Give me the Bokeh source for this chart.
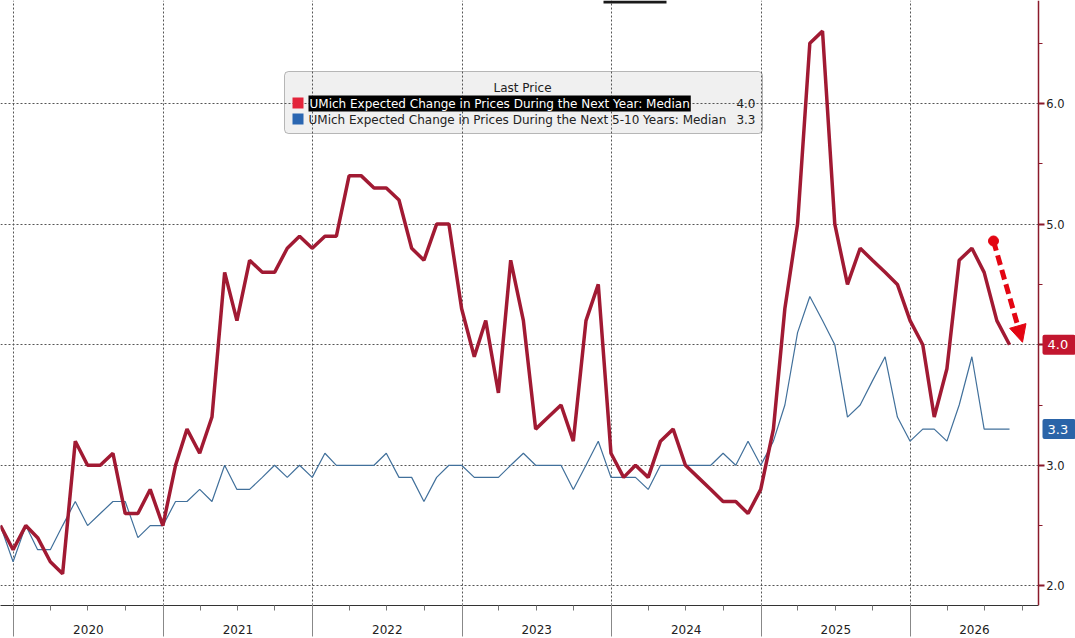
import pandas as pd
from bokeh.plotting import figure
from bokeh.models import (Range1d, FixedTicker, DatetimeTickFormatter, LinearAxis,
                          PrintfTickFormatter, BoxAnnotation, Label, Arrow, NormalHead)
from bokeh.embed import file_html
from bokeh.resources import INLINE

# monthly readings, plotted at month end: Nov 2019 .. Aug 2026
months = pd.date_range("2019-11-30", periods=82, freq="ME")

# UMich expected change in prices during the next year: median
one_year = [2.5, 2.3, 2.5, 2.4, 2.2, 2.1, 3.2, 3.0, 3.0, 3.1, 2.6, 2.6, 2.8, 2.5,
            3.0, 3.3, 3.1, 3.4, 4.6, 4.2, 4.7, 4.6, 4.6, 4.8, 4.9, 4.8,
            4.9, 4.9, 5.4, 5.4, 5.3, 5.3, 5.2, 4.8, 4.7, 5.0, 5.0, 4.3,
            3.9, 4.2, 3.6, 4.7, 4.2, 3.3, 3.4, 3.5, 3.2, 4.2, 4.5, 3.1,
            2.9, 3.0, 2.9, 3.2, 3.3, 3.0, 2.9, 2.8, 2.7, 2.7, 2.6, 2.8,
            3.3, 4.3, 5.0, 6.5, 6.6, 5.0, 4.5, 4.8, 4.7, 4.6, 4.5, 4.2,
            4.0, 3.4, 3.8, 4.7, 4.8, 4.6, 4.2, 4.0]

# UMich expected change in prices during the next 5-10 years: median
five_ten_year = [2.5, 2.2, 2.5, 2.3, 2.3, 2.5, 2.7, 2.5, 2.6, 2.7, 2.7, 2.4, 2.5, 2.5,
                 2.7, 2.7, 2.8, 2.7, 3.0, 2.8, 2.8, 2.9, 3.0, 2.9, 3.0, 2.9,
                 3.1, 3.0, 3.0, 3.0, 3.0, 3.1, 2.9, 2.9, 2.7, 2.9, 3.0, 3.0,
                 2.9, 2.9, 2.9, 3.0, 3.1, 3.0, 3.0, 3.0, 2.8, 3.0, 3.2, 2.9,
                 2.9, 2.9, 2.8, 3.0, 3.0, 3.0, 3.0, 3.0, 3.1, 3.0, 3.2, 3.0,
                 3.2, 3.5, 4.1, 4.4, 4.2, 4.0, 3.4, 3.5, 3.7, 3.9, 3.4, 3.2,
                 3.3, 3.3, 3.2, 3.5, 3.9, 3.3, 3.3, 3.3]

years = [2020, 2021, 2022, 2023, 2024, 2025, 2026]
y_ticks = [2.0, 3.0, 4.0, 5.0, 6.0]

one_year_name = "UMich Expected Change in Prices During the Next Year: Median"
five_ten_name = "UMich Expected Change in Prices During the Next 5-10 Years: Median"

RED = "#a11a33"
BLUE = "#41709b"
ARROW = "#e30613"
AXIS_RED = "#8b1a2b"


def ms(ts):
    return pd.Timestamp(ts).value / 1e6


# screen layout: 2020-01-01 at x=13, 2026-01-01 at x=910, 6.0 at y=103, 1 pt = 120.6 px
PX_PER_DAY = (910 - 13) / 2192.0
PX_PER_PT = 120.6
AXIS_X = 1038
FRAME_BOTTOM = 605


def x_at(px):
    return ms(pd.Timestamp("2020-01-01") + pd.Timedelta(days=(px - 13) / PX_PER_DAY))


def y_at(py):
    return 6.0 - (py - 103) / PX_PER_PT


x_start, x_end = x_at(0), x_at(1075)
x_axis_end = x_at(AXIS_X)

p = figure(width=1075, height=638, x_axis_type="datetime",
           x_range=Range1d(x_start, x_end), y_range=Range1d(y_at(FRAME_BOTTOM), y_at(0)),
           output_backend="svg", toolbar_location=None,
           min_border_left=0, min_border_top=0, min_border_right=0, min_border_bottom=33)
p.outline_line_color = None
p.background_fill_color = "white"
p.border_fill_color = "white"

p.line(months, five_ten_year, color=BLUE, line_width=1.2)
p.line(months, one_year, color=RED, line_width=3.5)

# x axis: year names centred in each year, quarter ticks, long year-boundary ticks
bounds = [pd.Timestamp(f"{y}-01-01") for y in years]
mids = []
for i, b in enumerate(bounds):
    nxt = ms(bounds[i + 1]) if i + 1 < len(bounds) else x_axis_end
    mids.append((ms(b) + nxt) / 2)
quarters = [ms(d) for d in pd.date_range("2020-01-01", "2026-10-01", freq="QS")]

xa = p.xaxis[0]
xa.bounds = (x_start, x_axis_end)
xa.ticker = FixedTicker(ticks=mids, minor_ticks=quarters)
xa.formatter = DatetimeTickFormatter(days="%Y", months="%Y", years="%Y")
xa.major_tick_out = 0
xa.major_tick_in = 0
xa.minor_tick_out = 5
xa.minor_tick_in = 0
xa.minor_tick_line_color = "#777777"
xa.axis_line_color = "#333333"
xa.major_label_text_font = "DejaVu Sans"
xa.major_label_text_font_size = "12px"
xa.major_label_text_color = "#222222"
xa.major_label_standoff = 14

xb = LinearAxis(ticker=FixedTicker(ticks=[ms(b) for b in bounds]),
                formatter=PrintfTickFormatter(format=""), bounds=(x_start, x_axis_end))
xb.axis_line_color = None
xb.major_tick_in = 33
xb.major_tick_out = 0
xb.minor_tick_line_color = None
xb.major_tick_line_color = "#888888"
xb.major_label_standoff = 0
p.add_layout(xb, "below")

# value axis pinned at the right edge of the chart area, labels on its right
ya = p.yaxis[0]
ya.fixed_location = x_axis_end
ya.ticker = FixedTicker(ticks=y_ticks, minor_ticks=[t + 0.5 for t in y_ticks])
ya.formatter = PrintfTickFormatter(format="%.1f")
ya.axis_line_color = AXIS_RED
ya.axis_line_width = 1.5
ya.major_tick_line_color = AXIS_RED
ya.major_tick_line_width = 2
ya.major_tick_out = 0
ya.major_tick_in = 6
ya.minor_tick_line_color = AXIS_RED
ya.minor_tick_out = 0
ya.minor_tick_in = 4
ya.major_label_standoff = -26
ya.major_label_text_font = "DejaVu Sans"
ya.major_label_text_font_size = "11.5px"
ya.major_label_text_color = "#222222"

p.xgrid.ticker = FixedTicker(ticks=[ms(b) for b in bounds])
p.ygrid.ticker = FixedTicker(ticks=y_ticks)
for g in (p.xgrid, p.ygrid):
    g.grid_line_color = "#555555"
    g.grid_line_dash = "2 2"
    g.grid_line_width = 1

# keep the area right of the value axis clear of grid lines
p.add_layout(BoxAnnotation(left=x_axis_end, right=x_end, fill_color="white", fill_alpha=1,
                           line_color=None, level="glyph"))

# dark tab cut off at the top edge of the capture
p.add_layout(BoxAnnotation(left=x_at(603), right=x_at(666), top=y_at(0), bottom=y_at(3),
                           fill_color="#1a1a1a", fill_alpha=1, line_color=None))

# legend panel
p.add_layout(BoxAnnotation(left=x_at(284), right=x_at(762), top=y_at(71), bottom=y_at(133),
                           fill_color="#f0f0f0", fill_alpha=1, line_color="#222222",
                           line_width=1, border_radius=4, level="image"))
p.add_layout(BoxAnnotation(left=x_at(292), right=x_at(303), top=y_at(97), bottom=y_at(108),
                           fill_color="#e3243b", fill_alpha=1, line_color=None))
p.add_layout(BoxAnnotation(left=x_at(292), right=x_at(303), top=y_at(113), bottom=y_at(124),
                           fill_color="#2a66b1", fill_alpha=1, line_color=None))
font = dict(text_font="DejaVu Sans", text_font_size="12px", text_baseline="middle")
p.add_layout(Label(x=x_at(522), y=y_at(87), text="Last Price", text_align="center",
                   text_color="#222222", **font))
p.add_layout(Label(x=x_at(308), y=y_at(103), text=one_year_name, text_align="left",
                   text_color="white", background_fill_color="black", padding=1, **font))
p.add_layout(Label(x=x_at(755), y=y_at(103), text=f"{one_year[-1]:.1f}", text_align="right",
                   text_color="#222222", **font))
p.add_layout(Label(x=x_at(308), y=y_at(119), text=five_ten_name, text_align="left",
                   text_color="#222222", **font))
p.add_layout(Label(x=x_at(755), y=y_at(119), text=f"{five_ten_year[-1]:.1f}", text_align="right",
                   text_color="#222222", **font))

# last-value badges on the axis
half = 10 / PX_PER_PT
for last, col in ((one_year[-1], "#c2162f"), (five_ten_year[-1], "#2a64a8")):
    p.add_layout(BoxAnnotation(left=x_at(1042), right=x_end, top=last + half, bottom=last - half,
                               fill_color=col, fill_alpha=1, line_color=None, border_radius=2))
    p.add_layout(Label(x=x_at(1047), y=last, text=f"{last:.1f}", text_font="DejaVu Sans",
                       text_font_size="13px", text_baseline="middle", text_align="left",
                       text_color="white"))

# hand-drawn downward arrow
arrow_from = (x_at(993), 4.86)
arrow_to = (x_at(1022), 4.02)
p.add_layout(Arrow(x_start=arrow_from[0], y_start=arrow_from[1],
                   x_end=arrow_to[0], y_end=arrow_to[1],
                   line_color=ARROW, line_width=5, line_dash="10 5",
                   end=NormalHead(size=17, fill_color=ARROW, line_color=ARROW)))
p.scatter([arrow_from[0]], [arrow_from[1]], size=10, color=ARROW)

open("out.html", "w").write(file_html(p, INLINE))
